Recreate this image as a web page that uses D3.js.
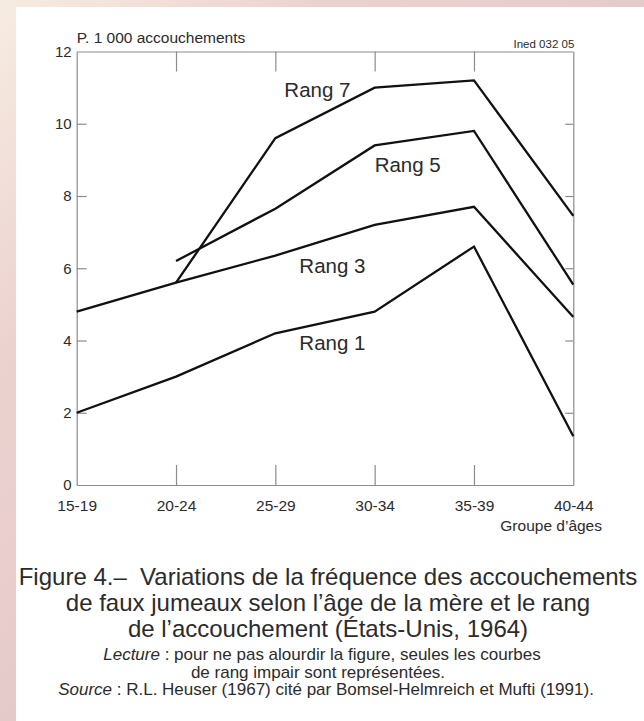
<!DOCTYPE html>
<html>
<head>
<meta charset="utf-8">
<script src="https://cdn.jsdelivr.net/npm/d3@7"></script>
<style>
  body { margin: 0; padding: 0; overflow: hidden; }
  svg text { font-family: "Liberation Sans", Arial, Helvetica, sans-serif; fill: #2b2b2b; }
</style>
</head>
<body>
<div id="content"></div>
<script>
// Donnees (p. 1 000 accouchements)
const ageGroups = ['15-19', '20-24', '25-29', '30-34', '35-39', '40-44'];
const rang1 = [2.0, 3.0, 4.2, 4.8, 6.6, 1.35];
const rang3 = [4.8, 5.6, 6.35, 7.2, 7.7, 4.65];
const rang5 = [null, 6.2, 7.65, 9.4, 9.8, 5.55];
const rang7 = [null, 5.6, 9.6, 11.0, 11.2, 7.45];
const yTicks = [0, 2, 4, 6, 8, 10, 12];
const seriesNames = ['Rang 1', 'Rang 3', 'Rang 5', 'Rang 7'];

const captionLines = [
    'Figure 4.\u2013\u00a0 Variations de la fr\u00e9quence des accouchements',
    'de faux jumeaux selon l\u2019\u00e2ge de la m\u00e8re et le rang',
    'de l\u2019accouchement (\u00c9tats-Unis, 1964)'
];

document.addEventListener('DOMContentLoaded', () => {
    const width = 644;
    const height = 721;
    const margin = { top: 51.5, right: 70.7, bottom: 236, left: 76.7 };

    const svg = d3.select('#content')
        .append('svg')
        .attr('width', width)
        .attr('height', height);

    // Fond rose du scan
    const defs = svg.append('defs');
    const grad = defs.append('linearGradient')
        .attr('id', 'bg')
        .attr('x1', '0%').attr('y1', '0%')
        .attr('x2', '100%').attr('y2', '100%');
    grad.append('stop').attr('offset', '0%').attr('stop-color', '#f6ece2');
    grad.append('stop').attr('offset', '25%').attr('stop-color', '#ecd2cf');
    grad.append('stop').attr('offset', '100%').attr('stop-color', '#d9bcc2');

    svg.append('rect')
        .attr('width', width)
        .attr('height', height)
        .attr('fill', 'url(#bg)');

    svg.append('rect')
        .attr('x', 16)
        .attr('y', 7)
        .attr('width', width - 16)
        .attr('height', height - 7)
        .attr('fill', '#ffffff');

    // Echelles
    const x = d3.scalePoint()
        .domain(ageGroups)
        .range([margin.left, width - margin.right]);

    const y = d3.scaleLinear()
        .domain([0, 12])
        .range([height - margin.bottom, margin.top]);

    const frameColor = '#8c8c8c';

    // Axes (cadre ferme, graduations vers l'interieur)
    const xAxisBottom = d3.axisBottom(x).tickSizeInner(-20).tickSizeOuter(0).tickPadding(15);
    const xAxisTop = d3.axisTop(x).tickSizeInner(-20).tickSizeOuter(0).tickFormat('');
    const yAxisLeft = d3.axisLeft(y).tickValues(yTicks).tickSizeInner(-10).tickSizeOuter(0).tickPadding(5);
    const yAxisRight = d3.axisRight(y).tickValues(yTicks).tickSizeInner(-8).tickSizeOuter(0).tickFormat('');

    const gBottom = svg.append('g')
        .attr('transform', `translate(0, ${y(0)})`)
        .call(xAxisBottom);
    const gTop = svg.append('g')
        .attr('transform', `translate(0, ${y(12)})`)
        .call(xAxisTop);
    const gLeft = svg.append('g')
        .attr('transform', `translate(${x(ageGroups[0])}, 0)`)
        .call(yAxisLeft);
    const gRight = svg.append('g')
        .attr('transform', `translate(${x(ageGroups[ageGroups.length - 1])}, 0)`)
        .call(yAxisRight);

    [gBottom, gTop, gLeft, gRight].forEach(g => {
        g.select('.domain').attr('stroke', frameColor).attr('stroke-width', 1.2);
        g.selectAll('.tick line').attr('stroke', frameColor).attr('stroke-width', 1.2);
        g.selectAll('.tick text')
            .style('font-family', '"Liberation Sans", Arial, sans-serif')
            .style('font-size', '15.5px')
            .attr('fill', '#222');
    });
    // pas de graduation aux extremites des axes
    gBottom.selectAll('.tick line').filter(d => d === ageGroups[0] || d === ageGroups[ageGroups.length - 1]).remove();
    gTop.selectAll('.tick line').filter(d => d === ageGroups[0] || d === ageGroups[ageGroups.length - 1]).remove();
    gLeft.selectAll('.tick line').filter(d => d === 0 || d === 12).remove();
    gRight.selectAll('.tick line').filter(d => d === 0 || d === 12).remove();
    gLeft.selectAll('.tick text').style('font-size', '15px');

    // Courbes
    const allSeries = [rang1, rang3, rang5, rang7];
    const line = d3.line()
        .defined(d => d != null)
        .x((d, i) => x(ageGroups[i]))
        .y(d => y(d));

    svg.append('g')
        .selectAll('path')
        .data(allSeries)
        .enter()
        .append('path')
        .attr('d', d => line(d))
        .attr('fill', 'none')
        .attr('stroke', '#111')
        .attr('stroke-width', 2.3)
        .attr('stroke-linejoin', 'miter');

    // Etiquettes des courbes (groupe d'age de reference, decalage, valeur)
    const labelAt = [
        { group: '25-29', dx: 24, v: 3.74 },
        { group: '25-29', dx: 24, v: 5.86 },
        { group: '30-34', dx: 0, v: 8.67 },
        { group: '25-29', dx: 9, v: 10.74 }
    ];
    svg.append('g')
        .selectAll('text')
        .data(seriesNames)
        .enter()
        .append('text')
        .attr('x', (d, i) => x(labelAt[i].group) + labelAt[i].dx)
        .attr('y', (d, i) => y(labelAt[i].v))
        .style('font-size', '20.5px')
        .attr('fill', '#1a1a1a')
        .text(d => d);

    // Titres d'axes
    svg.append('text')
        .attr('x', x(ageGroups[0]))
        .attr('y', 43)
        .style('font-size', '15.5px')
        .text('P. 1 000 accouchements');

    svg.append('text')
        .attr('x', x(ageGroups[ageGroups.length - 1]) + 1)
        .attr('y', 48)
        .attr('text-anchor', 'end')
        .style('font-size', '11.5px')
        .text('Ined 032 05');

    svg.append('text')
        .attr('x', 602)
        .attr('y', 531)
        .attr('text-anchor', 'end')
        .style('font-size', '15.5px')
        .text('Groupe d\u2019\u00e2ges');

    // Legende de la figure
    svg.append('g')
        .selectAll('text')
        .data(captionLines)
        .enter()
        .append('text')
        .attr('x', 328)
        .attr('y', (d, i) => 585 + i * 26)
        .attr('text-anchor', 'middle')
        .style('font-size', '24px')
        .attr('fill', '#1e1e1e')
        .text(d => d);

    const lecture = svg.append('text')
        .attr('x', 322)
        .attr('y', 660)
        .attr('text-anchor', 'middle')
        .style('font-size', '17px');
    lecture.append('tspan').style('font-style', 'italic').text('Lecture');
    lecture.append('tspan').text('\u00a0: pour ne pas alourdir la figure, seules les courbes');

    svg.append('text')
        .attr('x', 318)
        .attr('y', 677.5)
        .attr('text-anchor', 'middle')
        .style('font-size', '17px')
        .text('de rang impair sont repr\u00e9sent\u00e9es.');

    const source = svg.append('text')
        .attr('x', 326)
        .attr('y', 695)
        .attr('text-anchor', 'middle')
        .style('font-size', '17px');
    source.append('tspan').style('font-style', 'italic').text('Source');
    source.append('tspan').text('\u00a0: R.L. Heuser (1967) cit\u00e9 par Bomsel-Helmreich et Mufti (1991).');
});
</script>
</body>
</html>
